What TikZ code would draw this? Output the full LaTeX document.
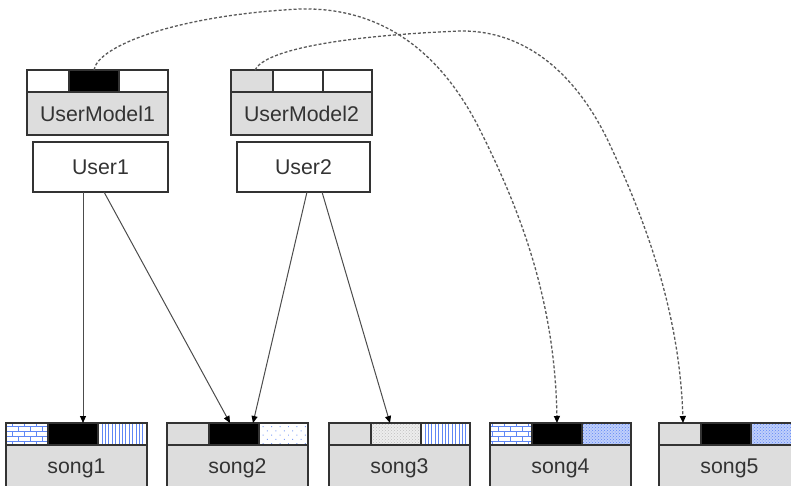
\documentclass[tikz,border=0pt]{standalone}
\usepackage{fontspec}
\setmainfont{Liberation Sans}
\usetikzlibrary{positioning,arrows.meta,patterns,patterns.meta}

\definecolor{boxgray}{RGB}{221,221,221}
\definecolor{patblue}{RGB}{95,135,245}

% small brick pattern for the song feature bars
\pgfdeclarepatternformonly{smallbricks}{\pgfqpoint{-1pt}{-1pt}}{\pgfqpoint{13pt}{11pt}}{\pgfqpoint{12pt}{10pt}}{%
  \pgfsetlinewidth{0.9pt}
  \pgfpathmoveto{\pgfqpoint{0pt}{0pt}}\pgfpathlineto{\pgfqpoint{12pt}{0pt}}
  \pgfpathmoveto{\pgfqpoint{0pt}{5pt}}\pgfpathlineto{\pgfqpoint{12pt}{5pt}}
  \pgfpathmoveto{\pgfqpoint{0pt}{0pt}}\pgfpathlineto{\pgfqpoint{0pt}{5pt}}
  \pgfpathmoveto{\pgfqpoint{6pt}{5pt}}\pgfpathlineto{\pgfqpoint{6pt}{10pt}}
  \pgfusepath{stroke}}

\begin{document}
\begin{tikzpicture}[
        x=1pt, y=-1pt,
        every node/.style={font=\fontsize{21.3}{25}\selectfont, text=black!80},
        user/.style={
            rectangle, draw=black!80, line width=1.2pt, fill=white,
            minimum width=135pt, minimum height=50pt, inner sep=0pt, outer sep=0pt
        },
        model/.style={
            rectangle, draw=black!80, line width=1.2pt, fill=boxgray,
            minimum width=141pt, minimum height=43pt, inner sep=0pt, outer sep=0pt
        },
        song/.style={model, minimum height=46pt},
        seg/.style={
            rectangle, draw=black!80, line width=1.2pt, inner sep=0pt, outer sep=0pt,
            minimum height=22pt
        },
        sega/.style={seg, minimum width=42pt},
        segb/.style={seg, minimum width=50pt},
        segc/.style={seg, minimum width=49pt},
        pbricks/.style={pattern=smallbricks, pattern color=patblue},
        plines/.style={pattern={Lines[angle=90, distance=3.4pt, line width=0.8pt]}, pattern color=patblue},
        pdots/.style={pattern={Dots[distance=6pt, radius=0.7pt, angle=45]}, pattern color=patblue!80},
        pspeck/.style={preaction={fill=patblue!40}, pattern=crosshatch dots, pattern color=patblue},
        pgrain/.style={preaction={fill=black!7}, pattern=crosshatch dots, pattern color=black!25},
        arr/.style={-{Triangle[length=7pt, width=6pt, color=black]}, line width=1pt, draw=black!70},
        darr/.style={-{Triangle[length=7pt, width=6pt, color=black]}, line width=1.3pt, draw=black!65,
            dash pattern=on 3pt off 2pt}
    ]
    \useasboundingbox (0,0) rectangle (791,486);
    \clip (0,0) rectangle (791,486);

    % Users
    \node[user] (u1) at (100.5,167) {User1};
    \node[user, minimum width=133pt] (u2) at (303.5,167) {User2};

    % User models
    \node[model] (um1) at (97.5,113.5) {UserModel1};
    \node[sega, anchor=south west, fill=white] (um1a) at (um1.north west) {};
    \node[segb, right=0pt of um1a, fill=black] (um1b) {};
    \node[segc, right=0pt of um1b, fill=white] (um1c) {};

    \node[model] (um2) at (301.5,113.5) {UserModel2};
    \node[sega, anchor=south west, fill=boxgray] (um2a) at (um2.north west) {};
    \node[segb, right=0pt of um2a, fill=white] (um2b) {};
    \node[segc, right=0pt of um2b, fill=white] (um2c) {};

    % Songs
    \node[song] (s1) at (76.5,468) {song1};
    \node[sega, anchor=south west, pbricks] (s1a) at (s1.north west) {};
    \node[segb, right=0pt of s1a, fill=black] (s1b) {};
    \node[segc, right=0pt of s1b, plines] (s1c) {};

    \node[song] (s2) at (237.5,468) {song2};
    \node[sega, anchor=south west, fill=boxgray] (s2a) at (s2.north west) {};
    \node[segb, right=0pt of s2a, fill=black] (s2b) {};
    \node[segc, right=0pt of s2b, pdots] (s2c) {};

    \node[song] (s3) at (399.5,468) {song3};
    \node[sega, anchor=south west, fill=boxgray] (s3a) at (s3.north west) {};
    \node[segb, right=0pt of s3a, pgrain] (s3b) {};
    \node[segc, right=0pt of s3b, plines] (s3c) {};

    \node[song] (s4) at (560.5,468) {song4};
    \node[sega, anchor=south west, pbricks] (s4a) at (s4.north west) {};
    \node[segb, right=0pt of s4a, fill=black] (s4b) {};
    \node[segc, right=0pt of s4b, pspeck] (s4c) {};

    \node[song] (s5) at (729.5,468) {song5};
    \node[sega, anchor=south west, fill=boxgray] (s5a) at (s5.north west) {};
    \node[segb, right=0pt of s5a, fill=black] (s5b) {};
    \node[segc, right=0pt of s5b, pspeck] (s5c) {};

    % Arrows: users -> songs
    \draw[arr] ([xshift=-17.5pt]u1.south) -- ([xshift=10pt]s1b.north);
    \draw[arr] ([xshift=3.5pt]u1.south) -- ([xshift=-4pt]s2b.north);
    \draw[arr] ([xshift=3.5pt]u2.south) -- ([xshift=19pt]s2b.north);
    \draw[arr] ([xshift=18.5pt]u2.south) -- ([xshift=-6pt]s3b.north);

    % Arrows: models -> recommended songs
    \draw[darr] (um1b.north) .. controls (98,45) and (180,15) .. (300,9)
        .. controls (380,7) and (440,50) .. (480,130)
        .. controls (520,210) and (555,300) .. (s4b.north);
    \draw[darr] ([xshift=3pt]um2a.north) .. controls (265,50) and (340,36) .. (460,31)
        .. controls (530,30) and (580,80) .. (610,145)
        .. controls (650,230) and (680,320) .. ([xshift=3pt]s5a.north);
\end{tikzpicture}
\end{document}
